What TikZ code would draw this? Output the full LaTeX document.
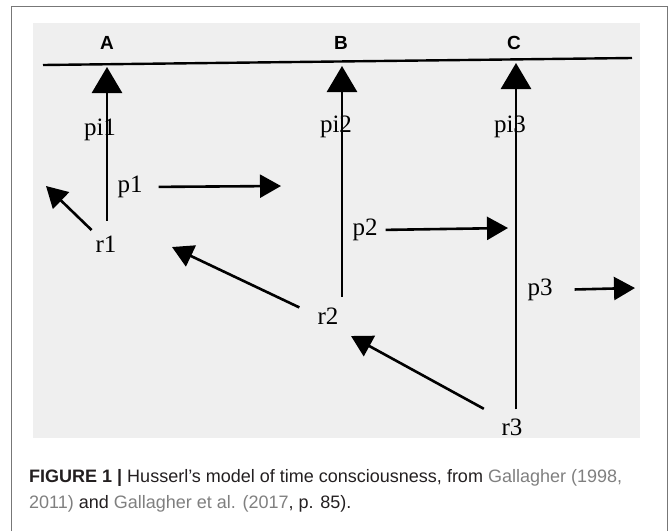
\documentclass[tikz,border=0pt]{standalone}
\usepackage{fontspec}
\setmainfont{Liberation Serif}
\setsansfont{Liberation Sans}
\usetikzlibrary{arrows.meta}
\definecolor{scan}{HTML}{EFEFEF}
\definecolor{framegray}{HTML}{777777}
\definecolor{linkgray}{HTML}{7F7F7F}
\definecolor{captext}{HTML}{231F20}

\begin{document}
\begin{tikzpicture}[x=1pt,y=-1pt,
      lbl/.style={font=\fontsize{25}{25}\selectfont,inner sep=0pt},
      point/.style={font=\sffamily\bfseries\fontsize{19}{19}\selectfont,inner sep=0pt},
      bigarr/.style={line width=2.8pt,-{Triangle[length=26pt,width=30pt]}},
      smallarr/.style={line width=2.6pt,-{Triangle[length=21pt,width=23pt]}},
      captionline/.style={font=\sffamily\fontsize{18}{18}\selectfont,text=captext,inner sep=0pt,anchor=base west}]
    \useasboundingbox (0,0) rectangle (670,531);
    % frame and scanned page
    \draw[framegray,line width=1pt] (11.5,531) |- (667.5,6) -- (667.5,531);
    \fill[scan] (33,23) rectangle (640,438);
    % time line
    \coordinate (lineL) at (43,65);
    \coordinate (lineR) at (632,58);
    \draw[line width=2.4pt] (lineL) -- (lineR);
    \foreach \n/\x in {A/107,B/341,C/514}
      \node[point] (\n) at (\x,43) {\n};
    % arrow tips
    \coordinate (a1) at (107,67);
    \coordinate (a2) at (342,66);
    \coordinate (a3) at (516,63);
    \coordinate (p1end) at (281,186);
    \coordinate (p2end) at (508,228);
    \coordinate (p3end) at (635,288);
    \coordinate (r1tip) at (46,186);
    \coordinate (r2tip) at (172,247);
    \coordinate (r3tip) at (351,336);
    % labels
    \node[lbl] (r1) at (106,244) {r1};
    \node[lbl] (r2) at (328,316) {r2};
    \node[lbl] (r3) at (512,427) {r3};
    \node[lbl] (p1) at (130,187) {p1};
    \node[lbl] (p2) at (365,230) {p2};
    \node[lbl] (p3) at (540,290) {p3};
    % arrows
    \draw[bigarr,shorten <=15pt] (a1 |- r1.north) -- (a1);
    \draw[bigarr,shorten <=11pt] (a2 |- r2.north) -- (a2);
    \draw[bigarr,shorten <=9pt] (a3 |- r3.north) -- (a3);
    \draw[smallarr,shorten <=16pt] (p1.east) -- (p1end);
    \draw[smallarr,shorten <=8pt] (p2.east) -- (p2end);
    \draw[smallarr,shorten <=22pt] (p3.east) -- (p3end);
    \draw[smallarr,shorten <=20pt] (r1.center) -- (r1tip);
    \draw[smallarr,shorten <=20pt] (r2.west) -- (r2tip);
    \draw[smallarr,shorten <=20pt] (r3.north west) -- (r3tip);
    \node[lbl] (pi1) at (100,130) {pi1};
    \node[lbl] (pi2) at (336,127) {pi2};
    \node[lbl] (pi3) at (510,127) {pi3};
    % caption
    \node[captionline] (cap1) at (29,482) {\textbf{FIGURE 1 |} Husserl’s model of time consciousness, from \textcolor{linkgray}{Gallagher (1998,}};
    \node[captionline] (cap2) at (29,508) {\textcolor{linkgray}{2011)} and \textcolor{linkgray}{Gallagher et al. (2017}, p. 85).};
  \end{tikzpicture}
\end{document}
